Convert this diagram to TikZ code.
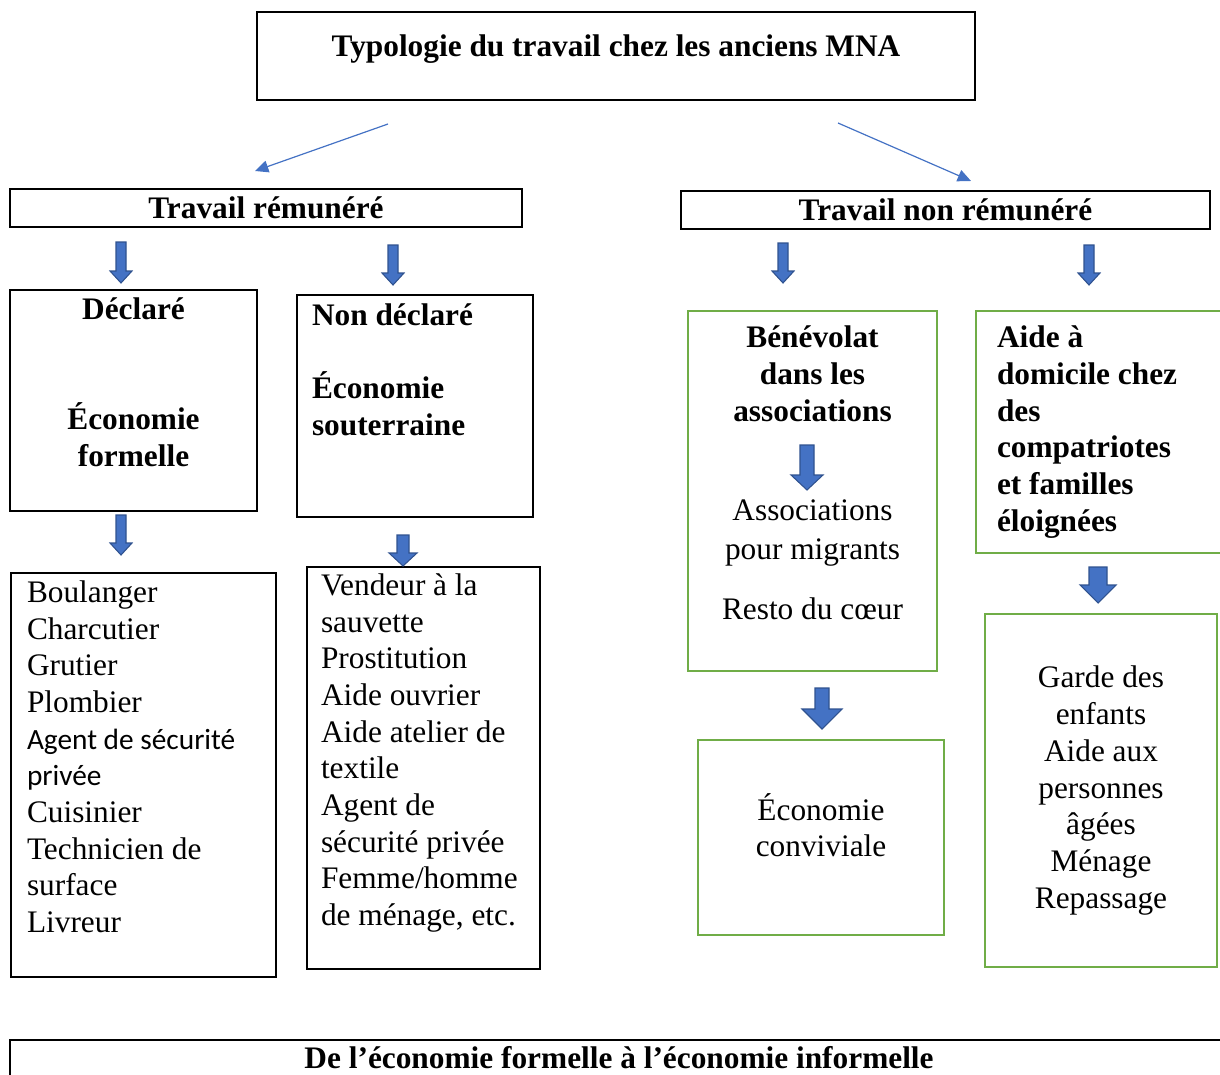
\documentclass[tikz,border=0pt]{standalone}
\usepackage{fontspec}
\setmainfont{Liberation Serif}
\newfontfamily\calibri{Carlito}
\usetikzlibrary{arrows.meta}
\definecolor{arrowblue}{HTML}{4472C4}
\definecolor{arrowdark}{HTML}{2F528F}
\definecolor{boxgreen}{HTML}{70AD47}
\newdimen\px \px=0.75pt
% block arrow: x, top, tip, half shaft, half head, head length
\newcommand{\blkarrow}[6]{%
  \filldraw[blk] (#1-#4,#2) -- (#1+#4,#2) -- (#1+#4,#3-#6) -- (#1+#5,#3-#6)
    -- (#1,#3) -- (#1-#5,#3-#6) -- (#1-#4,#3-#6) -- cycle;}

\begin{document}
\begin{tikzpicture}[x=0.75pt, y=-0.75pt,
  txt/.style={font=\fontsize{23.5}{27.5}\selectfont},
  head/.style={font=\fontsize{23.5}{27.5}\selectfont\bfseries},
  box/.style={draw, line width=1.5pt, inner sep=0pt, txt},
  gbox/.style={draw=boxgreen, line width=2.2pt, inner sep=0pt, txt},
  link/.style={draw=arrowblue, line width=0.9pt, -{Triangle[length=10pt, width=9pt]}},
  blk/.style={fill=arrowblue, draw=arrowdark, line width=0.8pt}]
  \useasboundingbox (0,0) rectangle (1220,1074);
  % title and the two kinds of work
  \node[box, head, minimum width=718\px, minimum height=88\px, text depth=15pt] (titre) at (616,56)
    {Typologie du travail chez les anciens MNA};
  \node[box, head, minimum width=512\px, minimum height=38\px] (remu) at (266,208) {Travail rémunéré};
  \node[box, head, minimum width=529\px, minimum height=38\px] (nonremu) at (945.5,210) {Travail non rémunéré};
  \draw[link] ([shift={(-228,23)}]titre.south) -- ([shift={(-11,-17)}]remu.north);
  \draw[link] ([shift={(222,22)}]titre.south) -- ([shift={(25.5,-9)}]nonremu.north);
  % paid work
  \node[box, head, minimum width=247\px, minimum height=221\px, align=center] (decl) at (133.5,400.5)
    {Déclaré\\ ~\\ ~\\Économie\\formelle\\ ~};
  \node[box, head, minimum width=236\px, minimum height=222\px, text width=206\px, align=flush left] (nondecl) at (415,406)
    {Non déclaré\\ ~\\Économie\\souterraine\\ ~\\ ~};
  \node[box, minimum width=265\px, minimum height=404\px, text width=233\px, align=flush left] (metiers) at (143.5,775)
    {Boulanger\\Charcutier\\Grutier\\Plombier\\{\calibri\fontsize{22}{27.5}\selectfont Agent de sécurité}\\
     {\calibri\fontsize{22}{27.5}\selectfont privée}\\Cuisinier\\Technicien de\\surface\\Livreur\\ ~};
  \node[box, minimum width=233\px, minimum height=402\px, text width=205\px, align=flush left] (informel) at (423.5,768)
    {Vendeur à la\\sauvette\\Prostitution\\Aide ouvrier\\Aide atelier de\\textile\\Agent de\\sécurité privée\\
     Femme/homme\\de ménage, etc.\\ ~};
  % unpaid work
  \node[gbox, minimum width=249\px, minimum height=360\px, align=center] (benev) at (812.5,491)
    {\textbf{Bénévolat}\\\textbf{dans les}\\\textbf{associations}\\[63\px]Associations\\[2\px]pour migrants\\[23\px]Resto du cœur\\ ~};
  \node[gbox, head, minimum width=256\px, minimum height=242\px, text width=214\px, align=flush left] (aide) at (1104,432)
    {Aide à\\domicile chez\\des\\compatriotes\\et familles\\éloignées};
  \node[gbox, minimum width=246\px, minimum height=195\px, align=center] (conviv) at (821,837.5)
    {Économie\\conviviale\\[-12\px] ~};
  \node[gbox, minimum width=232\px, minimum height=353\px, align=center] (garde) at (1101,790.5)
    {Garde des\\enfants\\Aide aux\\personnes\\âgées\\Ménage\\Repassage};
  % conclusion
  \node[box, head, minimum width=1218\px, minimum height=36\px] (bilan) at (619,1058)
    {De l’économie formelle à l’économie informelle};
  % block arrows
  \blkarrow{121}{242}{283}{5}{11}{12}
  \blkarrow{393}{245}{285}{5}{11}{12}
  \blkarrow{783}{243}{283}{5}{11}{12}
  \blkarrow{1089}{245}{285}{5}{11}{12}
  \blkarrow{121}{515}{555}{5}{11}{12}
  \blkarrow{403}{535}{566}{6}{14}{13}
  \blkarrow{807}{445}{490}{7}{16}{15}
  \blkarrow{822}{688}{729}{7}{20}{20}
  \blkarrow{1098}{567}{603}{9}{18}{18}
\end{tikzpicture}
\end{document}
